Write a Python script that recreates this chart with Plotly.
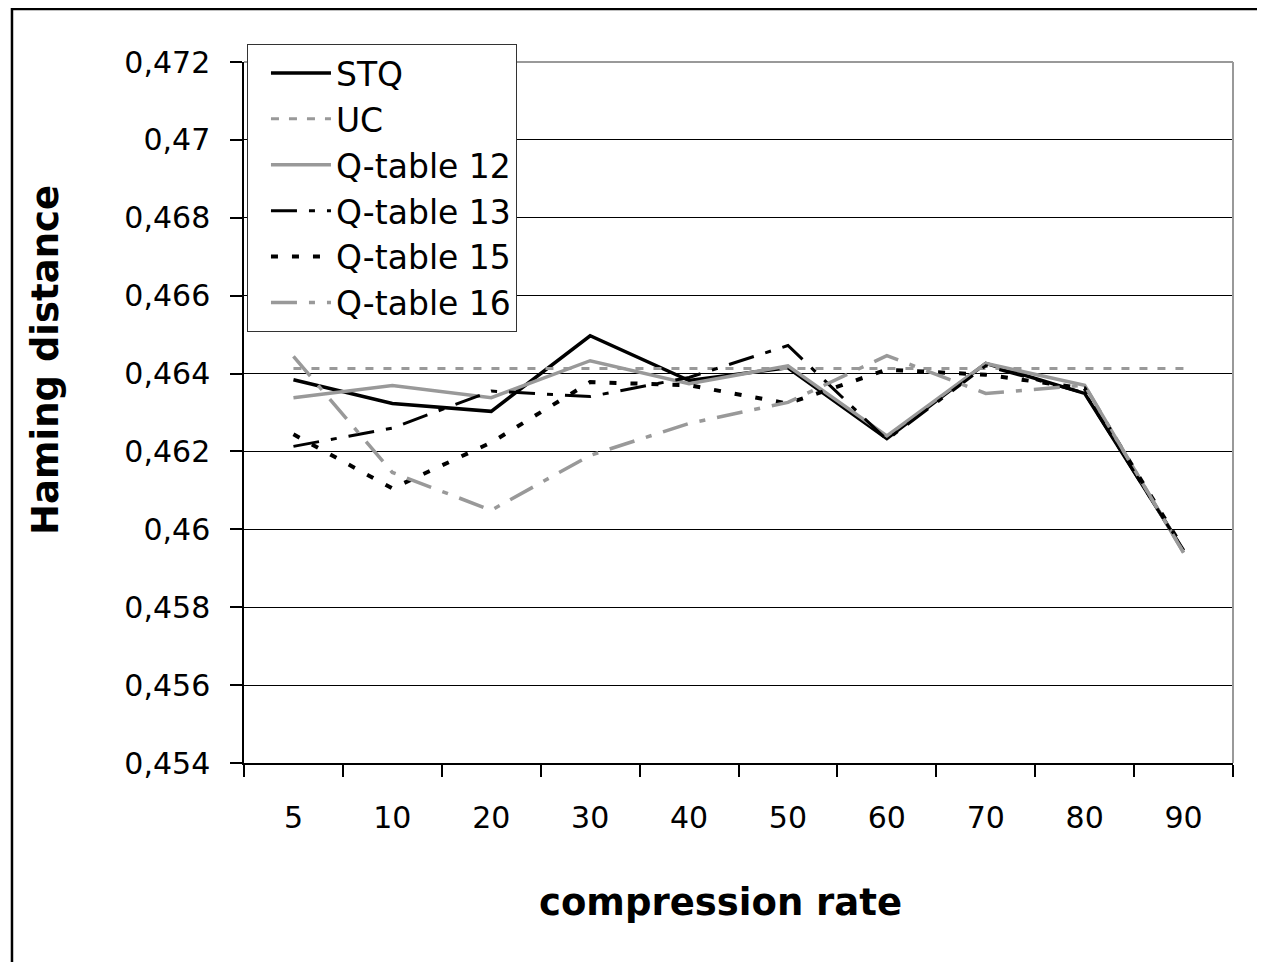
import plotly.graph_objects as go

categories = ["5", "10", "20", "30", "40", "50", "60", "70", "80", "90"]

stq = [0.46384, 0.46323, 0.46303, 0.46497, 0.46382, 0.46415, 0.46233, 0.46426, 0.46349, 0.45946]
uc = [0.46413, 0.46413, 0.46413, 0.46413, 0.46413, 0.46413, 0.46413, 0.46413, 0.46413, 0.46413]
q12 = [0.46338, 0.46369, 0.46338, 0.46433, 0.46374, 0.46420, 0.46240, 0.46426, 0.46370, 0.45940]
q13 = [0.46213, 0.46260, 0.46355, 0.46341, 0.46390, 0.46472, 0.46230, 0.46420, 0.46350, 0.45945]
q15 = [0.46244, 0.46105, 0.46223, 0.46378, 0.46370, 0.46323, 0.46410, 0.46397, 0.46362, 0.45950]
q16 = [0.46444, 0.46146, 0.46049, 0.46190, 0.46272, 0.46326, 0.46446, 0.46349, 0.46370, 0.45940]

y_ticks = [0.454, 0.456, 0.458, 0.460, 0.462, 0.464, 0.466, 0.468, 0.470, 0.472]
y_tick_labels = ["0,454", "0,456", "0,458", "0,46", "0,462", "0,464", "0,466", "0,468", "0,47", "0,472"]

FONT = "DejaVu Sans"
GREY = "#999999"

series = [
    ("STQ", stq, "black", "solid", 3.5),
    ("UC", uc, GREY, "8px,10px", 3),
    ("Q-table 12", q12, GREY, "solid", 3.5),
    ("Q-table 13", q13, "black", "26px,12px,6px,12px", 3),
    ("Q-table 15", q15, "black", "7px,14px", 4),
    ("Q-table 16", q16, GREY, "26px,12px,6px,12px", 3.5),
]

fig = go.Figure()
for name, vals, color, dash, w in series:
    fig.add_trace(go.Scatter(
        x=categories, y=vals, name=name, mode="lines",
        line=dict(color=color, dash=dash, width=w),
    ))

fig.update_layout(
    width=1257, height=954,
    margin=dict(l=236, r=32, t=54, b=199),
    paper_bgcolor="white", plot_bgcolor="white",
    font=dict(family=FONT, size=30, color="black"),
    showlegend=True,
    legend=dict(
        x=0.003, y=1.0257, xanchor="left", yanchor="top",
        bgcolor="white", bordercolor="#333333", borderwidth=1,
        font=dict(family=FONT, size=33, color="black"),
        itemwidth=60, indentation=18,
        entrywidth=300, entrywidthmode="pixels",
    ),
    xaxis=dict(
        type="category", range=[-0.5, 9.5], showgrid=False, showline=True,
        linecolor="black", linewidth=1.5,
        ticks="outside", ticklen=12, tickcolor="black", tickwidth=1.5, tickson="boundaries",
        tickfont=dict(family=FONT, size=30, color="black"), ticklabelstandoff=27,
        zeroline=False,
    ),
    yaxis=dict(
        range=[0.454, 0.472], tickvals=y_ticks, ticktext=y_tick_labels,
        showgrid=True, gridcolor="black", gridwidth=1,
        showline=True, linecolor="black", linewidth=1.5,
        ticks="outside", ticklen=12, tickcolor="black", tickwidth=1.5,
        tickfont=dict(family=FONT, size=30, color="black"), ticklabelstandoff=14,
        zeroline=False,
    ),
    shapes=[
        dict(type="line", xref="paper", yref="paper", x0=0, x1=1, y0=1, y1=1,
             line=dict(color=GREY, width=2), layer="above"),
        dict(type="line", xref="paper", yref="paper", x0=1, x1=1, y0=0, y1=1,
             line=dict(color=GREY, width=2), layer="above"),
        dict(type="rect", xref="paper", yref="paper", x0=-0.2346, x1=1.0425,
             y0=-0.3024, y1=1.0756, line=dict(color="black", width=2.5), layer="below"),
    ],
    annotations=[
        dict(text="<b>Haming distance</b>", xref="paper", yref="paper",
             x=-0.2002, y=0.5749, xanchor="center", yanchor="middle",
             textangle=-90, showarrow=False,
             font=dict(family=FONT, size=37, color="black")),
        dict(text="<b>compression rate</b>", xref="paper", yref="paper",
             x=0.4823, y=-0.1983, xanchor="center", yanchor="middle", showarrow=False,
             font=dict(family=FONT, size=37, color="black")),
    ],
)

fig.write_html("out.html")
